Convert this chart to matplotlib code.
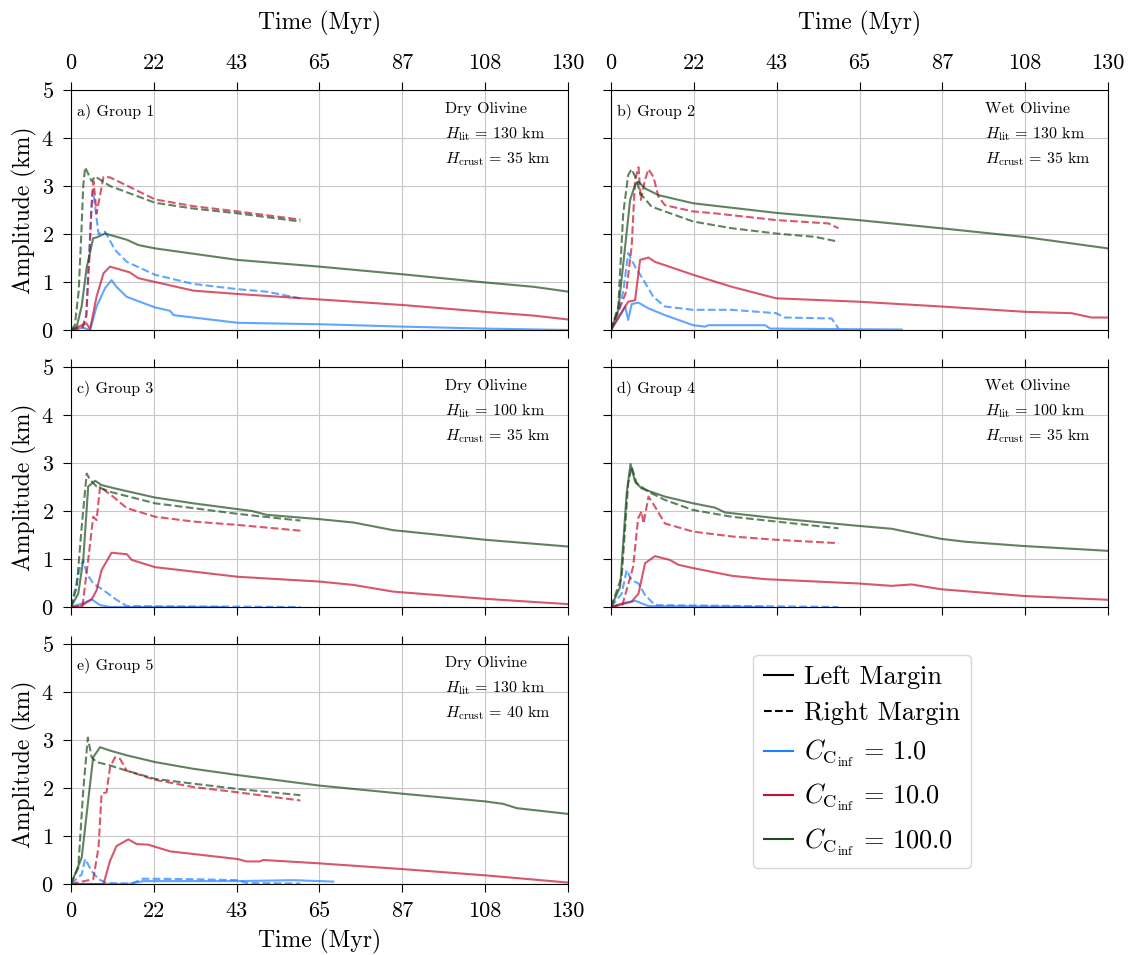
import matplotlib
matplotlib.use("Agg")
import matplotlib.pyplot as plt
from matplotlib.lines import Line2D
import numpy as np

plt.rcParams['font.family'] = 'serif'
plt.rcParams['font.serif'] = ['cmr10', 'DejaVu Serif']
plt.rcParams['mathtext.fontset'] = 'cm'
plt.rcParams['axes.formatter.use_mathtext'] = True

# ---- data: (time in Myr, amplitude in km) ----
# Group 1
a_left_1 = ([0, 3, 5, 6.7, 8.9, 10.6, 11.9, 14.6, 22, 25.9, 26.8, 43.6, 65, 87, 108, 130],
            [0, 0.05, 0, 0.49, 0.87, 1.04, 0.9, 0.69, 0.47, 0.4, 0.31, 0.15, 0.12, 0.07, 0.03, 0.0])
a_left_10 = ([0, 4, 5, 6.7, 8.5, 10.2, 12.4, 15.4, 17.6, 22, 32, 43.6, 62.5, 86.8, 108, 121, 130],
             [0, 0.14, 0.02, 0.7, 1.18, 1.32, 1.27, 1.2, 1.08, 1.0, 0.82, 0.75, 0.65, 0.52, 0.38, 0.3, 0.22])
a_left_100 = ([0, 1.5, 2.8, 4.1, 5.8, 6.7, 8.9, 14.6, 17.6, 22, 43.6, 65, 86.8, 108.4, 121, 130],
              [0, 0.07, 0.5, 1.3, 1.91, 1.93, 2.01, 1.88, 1.77, 1.7, 1.46, 1.32, 1.16, 0.99, 0.9, 0.8])
a_right_1 = ([0, 3, 4, 4.5, 5.3, 5.8, 7.2, 8.9, 11.5, 14.6, 22, 32, 43.6, 51, 60],
             [0, 0.05, 0.3, 1.2, 2.5, 2.9, 2.0, 2.05, 1.67, 1.42, 1.15, 0.96, 0.85, 0.8, 0.66])
a_right_10 = ([0, 3, 4, 4.8, 5.5, 5.9, 6.7, 8.5, 10.2, 22, 32, 43.6, 60],
              [0, 0.05, 0.3, 1.5, 2.8, 3.1, 2.43, 3.19, 3.18, 2.72, 2.58, 2.47, 2.3])
a_right_100 = ([0, 1, 2, 2.7, 3.2, 3.7, 5.4, 6.3, 10.2, 22, 32, 43.6, 60],
               [0, 0.1, 0.8, 2.0, 3.0, 3.39, 3.1, 3.2, 3.0, 2.65, 2.53, 2.43, 2.26])

# Group 2
b_left_1 = ([0, 3.7, 4.5, 5.4, 7.2, 9.8, 14.1, 21.5, 24.6, 25.5, 40.3, 41.6, 57.7, 76],
            [0, 0.49, 0.21, 0.54, 0.57, 0.45, 0.31, 0.1, 0.07, 0.1, 0.1, 0.03, 0.02, 0.01])
b_left_10 = ([0, 4.5, 6.3, 7.6, 9.8, 11.5, 14.1, 21.5, 31.6, 43.2, 64.7, 86.3, 108, 120.5, 125.7, 130],
             [0, 0.59, 0.62, 1.46, 1.51, 1.42, 1.35, 1.15, 0.9, 0.66, 0.59, 0.49, 0.38, 0.35, 0.26, 0.26])
b_left_100 = ([0, 1.9, 3.7, 5.0, 6.3, 7.2, 8.9, 12.4, 21.5, 43.2, 64.7, 86.3, 108, 130],
              [0, 0.42, 1.74, 2.71, 3.02, 3.09, 2.95, 2.81, 2.64, 2.44, 2.29, 2.12, 1.94, 1.7])
b_right_1 = ([0, 2, 3.2, 4.5, 6.3, 8.5, 11.1, 14.1, 21.5, 31.6, 43.2, 45.5, 57.7, 59.5],
             [0, 0.4, 0.8, 1.6, 1.32, 1.04, 0.69, 0.49, 0.42, 0.42, 0.35, 0.26, 0.24, 0.03])
b_right_10 = ([0, 2, 4, 5.4, 6.3, 7.2, 7.8, 8.9, 9.8, 11.1, 12.4, 14.1, 21.5, 27.2, 43.2, 56.9, 59.5],
              [0, 0.4, 0.8, 1.74, 3.13, 3.39, 2.71, 3.13, 3.35, 3.19, 2.78, 2.6, 2.47, 2.43, 2.29, 2.22, 2.12])
b_right_100 = ([0, 1.9, 3.2, 4.5, 5.4, 6.7, 7.6, 10.6, 14.1, 21.5, 31.6, 43.2, 53.4, 59.5],
               [0, 0.49, 2.43, 3.23, 3.35, 3.13, 2.85, 2.57, 2.47, 2.26, 2.12, 2.01, 1.94, 1.84])

# Group 3
c_left_1 = ([0, 3.2, 5.4, 7.6, 10.2, 40],
            [0, 0.08, 0.16, 0.04, 0.0, 0.0])
c_left_10 = ([0, 2.4, 5.4, 6.7, 8, 10.6, 14.6, 15.9, 22, 43.6, 65, 73.9, 84.3, 108.4, 130],
             [0, 0.01, 0.16, 0.35, 0.77, 1.13, 1.1, 0.98, 0.83, 0.63, 0.53, 0.46, 0.32, 0.17, 0.06])
c_left_100 = ([0, 1.9, 3.2, 4.5, 6.3, 8, 11.5, 22, 32, 47.3, 51.2, 65, 73.9, 84.3, 93, 108.4, 130],
              [0, 0.28, 0.98, 2.51, 2.63, 2.54, 2.47, 2.28, 2.16, 2.0, 1.92, 1.83, 1.76, 1.6, 1.53, 1.4, 1.26])
c_right_1 = ([0, 2.4, 3.2, 4.1, 5.8, 8.5, 11.9, 14.6, 60],
             [0, 0.84, 0.98, 0.7, 0.49, 0.35, 0.15, 0.02, 0.0])
c_right_10 = ([0, 3, 4.5, 5.8, 6.7, 7.6, 9.3, 11, 14.6, 22, 32, 43.6, 60],
              [0, 0.02, 0.98, 1.88, 1.81, 2.51, 2.4, 2.3, 2.06, 1.88, 1.78, 1.71, 1.59])
c_right_100 = ([0, 1.5, 2.8, 4.1, 5.0, 6.7, 10.2, 22, 32, 43.6, 60],
               [0, 0.42, 1.67, 2.78, 2.65, 2.51, 2.4, 2.16, 2.06, 1.94, 1.8])

# Group 4
d_left_1 = ([0, 3.7, 6.3, 9.8, 40],
            [0, 0.09, 0.13, 0.02, 0.0])
d_left_10 = ([0, 5.4, 7.2, 8.9, 11.5, 15.4, 17.6, 21.5, 31.6, 40.3, 64.7, 73.4, 78.6, 86.3, 108, 130],
             [0, 0.11, 0.28, 0.91, 1.06, 0.98, 0.88, 0.81, 0.65, 0.58, 0.49, 0.44, 0.47, 0.37, 0.23, 0.15])
d_left_100 = ([0, 2.4, 4.1, 5.1, 6.3, 8, 14.1, 21.5, 27.2, 29.8, 43.2, 64.7, 73.4, 86.3, 92.6, 108, 130],
              [0, 0.42, 2.37, 2.98, 2.61, 2.47, 2.3, 2.16, 2.07, 1.97, 1.85, 1.69, 1.63, 1.42, 1.36, 1.27, 1.17])
d_right_1 = ([0, 2.8, 4.1, 5.4, 7.2, 8.9, 11.5, 59.5],
             [0, 0.28, 0.77, 0.56, 0.49, 0.25, 0.04, 0.0])
d_right_10 = ([0, 3, 5.8, 7.1, 8, 8.5, 9.8, 11.5, 14.1, 21.5, 31.6, 43.2, 59.5],
              [0, 0.05, 0.84, 1.85, 1.99, 1.74, 2.3, 2.09, 1.74, 1.57, 1.47, 1.4, 1.33])
d_right_100 = ([0, 2.8, 4.5, 5.4, 6.7, 9.8, 14.1, 21.5, 31.6, 43.2, 59.5],
               [0, 0.63, 2.58, 2.92, 2.58, 2.4, 2.23, 2.02, 1.88, 1.78, 1.64])

# Group 5
e_left_1 = ([0, 3, 15, 18.9, 43.6, 58, 68.6],
            [0, 0.0, 0.0, 0.06, 0.06, 0.08, 0.05])
e_left_10 = ([0, 8.5, 10.2, 11.9, 15, 17.2, 20.2, 25.9, 43.6, 45.9, 49.4, 50.3, 65, 86.8, 108.4, 130],
             [0, 0.0, 0.48, 0.79, 0.93, 0.83, 0.82, 0.68, 0.52, 0.47, 0.47, 0.5, 0.43, 0.31, 0.18, 0.03])
e_left_100 = ([0, 2.8, 4.5, 5.8, 7.6, 10.2, 14.6, 22, 32, 43.6, 65, 86.8, 108.4, 113, 116.6, 130],
              [0, 0.55, 1.74, 2.64, 2.85, 2.78, 2.68, 2.54, 2.4, 2.27, 2.05, 1.88, 1.72, 1.67, 1.58, 1.46])
e_right_1 = ([0, 2.8, 3.7, 5.4, 7.2, 9.3, 15.9, 18.9, 32, 43.6, 45.9, 60],
             [0, 0.2, 0.52, 0.27, 0.1, 0.02, 0.01, 0.11, 0.1, 0.08, 0.02, 0.01])
e_right_10 = ([0, 5.8, 7.2, 8, 9.3, 10.2, 11.5, 12.8, 14.6, 22, 32, 43.6, 60],
              [0, 0.1, 0.76, 1.88, 1.91, 2.43, 2.64, 2.61, 2.36, 2.17, 2.02, 1.91, 1.74])
e_right_100 = ([0, 1.9, 3.2, 4.4, 5.4, 6.7, 10.2, 14.6, 22, 32, 43.6, 60],
               [0, 0.34, 1.95, 3.05, 2.64, 2.54, 2.47, 2.36, 2.19, 2.09, 1.98, 1.85])

panel_tags = ["a) Group 1", "b) Group 2", "c) Group 3", "d) Group 4", "e) Group 5"]
rheology = ["Dry Olivine", "Wet Olivine", "Dry Olivine", "Wet Olivine", "Dry Olivine"]
h_lit = [130, 130, 100, 100, 130]
h_crust = [35, 35, 35, 35, 40]
c_values = ["1.0", "10.0", "100.0"]

left_curves = [[a_left_1, a_left_10, a_left_100],
               [b_left_1, b_left_10, b_left_100],
               [c_left_1, c_left_10, c_left_100],
               [d_left_1, d_left_10, d_left_100],
               [e_left_1, e_left_10, e_left_100]]
right_curves = [[a_right_1, a_right_10, a_right_100],
                [b_right_1, b_right_10, b_right_100],
                [c_right_1, c_right_10, c_right_100],
                [d_right_1, d_right_10, d_right_100],
                [e_right_1, e_right_10, e_right_100]]

colors = ['#1e80ff', '#c8102e', '#1e4d1e']
t_max = 130
xticks = np.linspace(0, t_max, 7)

# ---- layout (pixel-matched) ----
W, H = 1135, 955
fig = plt.figure(figsize=(W / 100, H / 100), dpi=100)

col_left = [71, 611]
row_top = [90, 367, 644]
ax_w, ax_h = 497, 240

slots = [(0, 0), (0, 1), (1, 0), (1, 1), (2, 0)]
for i, (r, c) in enumerate(slots):
    x0 = col_left[c] / W
    y0 = 1 - (row_top[r] + ax_h) / H
    ax = fig.add_axes([x0, y0, ax_w / W, ax_h / H])

    for k in range(3):
        t, y = left_curves[i][k]
        ax.plot(t, y, color=colors[k], alpha=0.7, lw=1.5, ls='-')
        t, y = right_curves[i][k]
        ax.plot(t, y, color=colors[k], alpha=0.7, lw=1.5, ls='--')

    ax.set_xlim(0, t_max)
    ax.set_ylim(0, 5)
    ax.set_xticks(xticks)
    ax.set_xticklabels([f"{v:.0f}" for v in xticks])
    ax.set_yticks(range(6))
    ax.grid(True, color='#c8c8c8', lw=0.8)
    ax.tick_params(direction='out', top=True, bottom=True, labelsize=16,
                   length=6, pad=6.5, labelbottom=False, labeltop=False)

    if r == 0:
        ax.tick_params(labeltop=True)
        ax.xaxis.set_label_position('top')
        ax.set_xlabel("Time (Myr)", fontsize=17, labelpad=17)
    if i == 4:
        ax.tick_params(labelbottom=True)
        ax.set_xlabel("Time (Myr)", fontsize=17, labelpad=6)
    if c == 0:
        ax.set_ylabel("Amplitude (km)", fontsize=17, labelpad=3)
    else:
        ax.tick_params(labelleft=False)

    ax.text(0.0115, 0.896, panel_tags[i], transform=ax.transAxes,
            fontsize=11.5, va='baseline', ha='left')
    ax.text(0.753, 0.904, rheology[i], transform=ax.transAxes,
            fontsize=11.5, va='baseline', ha='left')
    ax.text(0.753, 0.80, r"$H_{\rm lit}\,=\,%d$ km" % h_lit[i], transform=ax.transAxes,
            fontsize=11.5, va='baseline', ha='left')
    ax.text(0.753, 0.695, r"$H_{\rm crust}\,=\,%d$ km" % h_crust[i], transform=ax.transAxes,
            fontsize=11.5, va='baseline', ha='left')

handles = [Line2D([], [], color='k', ls='-', lw=1.5),
           Line2D([], [], color='k', ls='--', lw=1.5)]
labels = ["Left Margin", "Right Margin"]
for k in range(3):
    handles.append(Line2D([], [], color=colors[k], lw=1.5))
    labels.append(r"$C_{\mathrm{C}_{\mathrm{inf}}}\,=\,%s$" % c_values[k])

fig.legend(handles, labels, loc='upper left', bbox_to_anchor=(753 / W, 1 - 655 / H),
           fontsize=19, handlelength=1.1, handletextpad=0.45, labelspacing=0.47,
           borderaxespad=0, frameon=True, framealpha=0.8, edgecolor='#cccccc')

fig.savefig("out.png", dpi=100)
